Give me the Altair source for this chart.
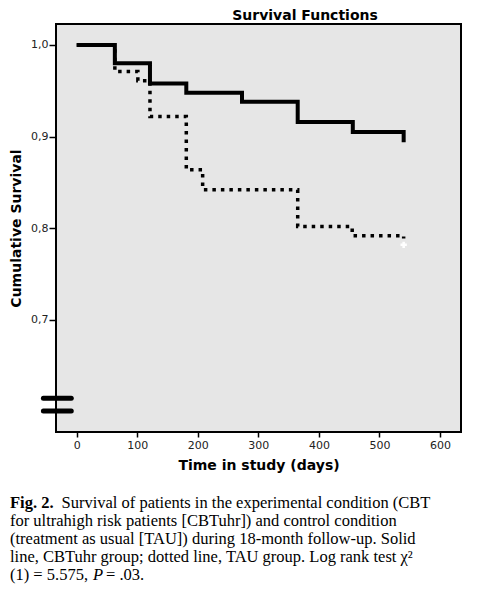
import altair as alt
import pandas as pd

# Kaplan-Meier step data (days, cumulative survival)
cbt_days = [0, 63, 121, 181, 273, 365, 456, 540]
cbt_surv = [1.0, 0.980, 0.958, 0.948, 0.938, 0.916, 0.905, 0.894]
tau_days = [0, 63, 101, 121, 181, 208, 365, 455, 540]
tau_surv = [1.0, 0.971, 0.961, 0.922, 0.864, 0.842, 0.802, 0.792, 0.789]
censor_days = [540]
censor_surv = [0.782]
# axis-break symbol on the y axis
break_y = [0.6146, 0.6008]
break_x_from = [-55, -55]
break_x_to = [-9, -9]

x_ticks = [0, 100, 200, 300, 400, 500, 600]
y_ticks = [0.7, 0.8, 0.9, 1.0]
x_domain = [-34.2, 634.7]
y_domain = [0.5778, 1.0229]

cbt = pd.DataFrame({"days": cbt_days, "surv": cbt_surv})
tau = pd.DataFrame({"days": tau_days, "surv": tau_surv})
cens = pd.DataFrame({"days": censor_days, "surv": censor_surv})
brk = pd.DataFrame({"x": break_x_from, "x2": break_x_to, "y": break_y})

xs = alt.Scale(domain=x_domain, nice=False, zero=False)
ys = alt.Scale(domain=y_domain, nice=False, zero=False)

AX_FONT = "DejaVu Sans"

x_enc = alt.X("days:Q", scale=xs, axis=alt.Axis(
    title="Time in study (days)", values=x_ticks, format="d",
    domain=False, grid=False, tickSize=5, tickColor="black", tickWidth=1.5,
    labelFont=AX_FONT, labelFontSize=11, labelColor="#222", labelPadding=2,
    titleFont=AX_FONT, titleFontSize=14, titleFontWeight="bold",
    titleColor="black", titlePadding=8))
y_enc = alt.Y("surv:Q", scale=ys, axis=alt.Axis(
    title="Cumulative Survival", values=y_ticks,
    labelExpr="replace(format(datum.value, '.1f'), '.', ',')",
    domain=False, grid=False, tickSize=7, tickColor="black", tickWidth=1.5,
    labelFont=AX_FONT, labelFontSize=11, labelColor="#222", labelPadding=1,
    titleFont=AX_FONT, titleFontSize=14, titleFontWeight="bold",
    titleColor="black", titlePadding=7))

tau_line = alt.Chart(tau).mark_line(
    interpolate="step-after", color="black", strokeWidth=3.5,
    strokeDash=[3.5, 5], strokeCap="butt").encode(x=x_enc, y=y_enc)
cbt_line = alt.Chart(cbt).mark_line(
    interpolate="step-after", color="black", strokeWidth=4).encode(
    x=alt.X("days:Q", scale=xs), y=alt.Y("surv:Q", scale=ys))
cens_pt = alt.Chart(cens).mark_point(
    shape="cross", filled=True, color="white", size=40, opacity=1).encode(
    x=alt.X("days:Q", scale=xs), y=alt.Y("surv:Q", scale=ys))
brk_rule = alt.Chart(brk).mark_rule(
    color="black", strokeWidth=5, strokeCap="round", clip=False).encode(
    x=alt.X("x:Q", scale=xs), x2="x2:Q", y=alt.Y("y:Q", scale=ys))


def txt(s, x, y, size=16.5, weight="normal", style="normal", font="Liberation Serif",
        align="left", baseline="middle"):
    return alt.Chart(pd.DataFrame({"t": [s]})).mark_text(
        font=font, fontSize=size, fontWeight=weight, fontStyle=style,
        align=align, baseline=baseline, color="black").encode(
        text="t:N", x=alt.value(x), y=alt.value(y))


OX, OY = 56, 24  # page position of plot origin
title = txt("Survival Functions", 305 - OX, 16 - OY, size=14, weight="bold",
            font=AX_FONT, align="center")

cap_pieces = [
    ("Fig. 2.", 10, 503, "bold", "normal"),
    ("Survival of patients in the experimental condition (CBT", 61.5, 503, "normal", "normal"),
    ("for ultrahigh risk patients [CBTuhr]) and control condition", 10, 521, "normal", "normal"),
    ("(treatment as usual [TAU]) during 18-month follow-up. Solid", 10, 539, "normal", "normal"),
    ("line, CBTuhr group; dotted line, TAU group. Log rank test χ²", 10, 557, "normal", "normal"),
    ("(1) = 5.575,", 10, 575, "normal", "normal"),
    ("P", 93, 575, "normal", "italic"),
    ("= .03.", 106, 575, "normal", "normal"),
]
cap = [txt(s, x - OX, y - OY, weight=w, style=st) for s, x, y, w, st in cap_pieces]

chart = alt.layer(tau_line, cbt_line, cens_pt, brk_rule, title, *cap).properties(
    width=405, height=408,
    padding={"left": 48, "top": 16, "right": 10, "bottom": 165},
    autosize=alt.AutoSizeParams(type="none"),
    background="white",
).configure_view(fill="#e6e6e6", stroke="black", strokeWidth=2)

chart.save("out.html", embed_options={"renderer": "svg", "actions": False})
